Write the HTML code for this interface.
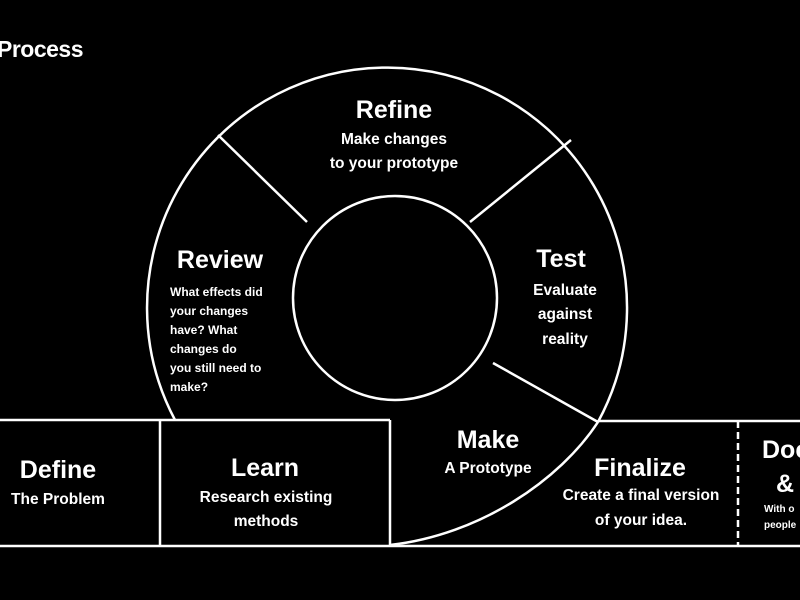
<!DOCTYPE html>
<html><head><meta charset="utf-8"><style>
html,body{margin:0;padding:0;background:#000;}
svg{display:block}
text{font-family:"Liberation Sans",sans-serif;fill:#fff;font-weight:bold;text-anchor:middle}
.h{font-size:25px}
.s{font-size:15.5px}
.t{font-size:12px}
</style></head><body>
<svg width="800" height="600" viewBox="0 0 800 600">
<rect width="800" height="600" fill="#000"/>
<g fill="none" stroke="#fff" stroke-width="2.5">
<path d="M175,420 A240,240 0 1 1 598,422"/>
<path d="M598,422 C560,480 480,535 390,545"/>
<circle cx="395" cy="298" r="102"/>
<line x1="218" y1="135" x2="307" y2="222"/>
<line x1="571" y1="140" x2="470" y2="222"/>
<line x1="493" y1="363" x2="598" y2="422"/>
<line x1="0" y1="420" x2="390" y2="420"/>
<line x1="598" y1="421" x2="800" y2="421"/>
<line x1="0" y1="546" x2="800" y2="546"/>
<line x1="160" y1="420" x2="160" y2="546"/>
<line x1="390" y1="420" x2="390" y2="546"/>
<line x1="738" y1="421" x2="738" y2="546" stroke-dasharray="7,4"/>
</g>
<text x="-3" y="57" style="text-anchor:start;font-size:23px;letter-spacing:-0.5px">Process</text>
<text class="h" x="394" y="118">Refine</text>
<text class="s" x="394" y="144">Make changes</text>
<text class="s" x="394" y="168">to your prototype</text>
<text class="h" x="220" y="268">Review</text>
<text class="t" x="170" y="296" style="text-anchor:start">What effects did</text>
<text class="t" x="170" y="315" style="text-anchor:start">your changes</text>
<text class="t" x="170" y="334" style="text-anchor:start">have? What</text>
<text class="t" x="170" y="353" style="text-anchor:start">changes do</text>
<text class="t" x="170" y="372" style="text-anchor:start">you still need to</text>
<text class="t" x="170" y="391" style="text-anchor:start">make?</text>
<text class="h" x="561" y="267">Test</text>
<text class="s" x="565" y="295">Evaluate</text>
<text class="s" x="565" y="319">against</text>
<text class="s" x="565" y="344">reality</text>
<text class="h" x="488" y="448">Make</text>
<text class="s" x="488" y="473">A Prototype</text>
<text class="h" x="58" y="478">Define</text>
<text class="s" x="58" y="504">The Problem</text>
<text class="h" x="265" y="476">Learn</text>
<text class="s" x="266" y="502">Research existing</text>
<text class="s" x="266" y="526">methods</text>
<text class="h" x="640" y="476">Finalize</text>
<text class="s" x="641" y="500">Create a final version</text>
<text class="s" x="641" y="525">of your idea.</text>
<text class="h" x="762" y="458" style="text-anchor:start">Doc</text>
<text class="h" x="776" y="492" style="text-anchor:start">&amp;</text>
<text class="t" x="764" y="512" style="text-anchor:start;font-size:10px">With o</text>
<text class="t" x="764" y="528" style="text-anchor:start;font-size:10px">people</text>
</svg>
</body></html>
